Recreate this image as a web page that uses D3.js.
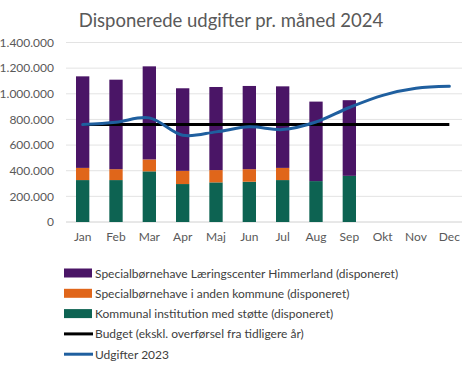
<!DOCTYPE html>
<html><head><meta charset="utf-8">
<script src="https://cdn.jsdelivr.net/npm/d3@7"></script>
<style>body{margin:0;background:#fff;}svg{display:block;font-family:Lato,"Open Sans",sans-serif;}</style>
</head><body>
<svg id="c" width="462" height="367"></svg>
<script>
const months = ["Jan","Feb","Mar","Apr","Maj","Jun","Jul","Aug","Sep","Okt","Nov","Dec"];
const kommunal = [327000,327000,395000,296000,309000,314000,327000,319000,360000];
const andenKommune = [95000,85000,93000,103000,96000,98000,95000,0,0];
const laeringscenter = [714000,698000,726000,644000,648000,649000,636000,620000,590000];
const budget = [760000,760000,760000,760000,760000,760000,760000,760000,760000,760000,760000,760000];
const udgifter2023 = [760000,778000,812000,677000,703000,742000,721000,780000,893000,988000,1043000,1058000];
const yTicks = [0,200000,400000,600000,800000,1000000,1200000,1400000];
const seriesNames = ["Specialbørnehave Læringscenter Himmerland (disponeret)","Specialbørnehave i anden kommune (disponeret)","Kommunal institution med støtte (disponeret)","Budget (ekskl. overførsel fra tidligere år)","Udgifter 2023"];
const colors = {purple:"#4a1566", orange:"#e0661a", teal:"#0d6352", black:"#000000", blue:"#1f5f9f"};

const svg = d3.select("#c");
const x = d3.scaleBand().domain(months).range([66,466]).paddingInner(0.6).paddingOuter(0.3);
const y = d3.scaleLinear().domain([0,1400000]).range([222,42.5]);
const fmt = v => d3.format(",")(v).replace(/,/g,".");

// grid
svg.append("g").selectAll("line").data(yTicks).join("line")
  .attr("x1",66).attr("x2",462).attr("y1",d=>y(d)).attr("y2",d=>y(d))
  .attr("stroke",d=>d===0?"#d0d0d0":"#e3e3e3").attr("stroke-width",1);

// y axis labels
const ya = svg.append("g").attr("transform","translate(54,0)")
  .call(d3.axisLeft(y).tickValues(yTicks).tickFormat(fmt).tickSize(0).tickPadding(0));
ya.select(".domain").remove();
ya.selectAll("text").attr("fill","#595959").style("font-size","12px").style("font-family","Lato,'Open Sans',sans-serif");

// x axis labels
const xa = svg.append("g").attr("transform","translate(0,222)")
  .call(d3.axisBottom(x).tickSize(0).tickPadding(10));
xa.select(".domain").remove();
xa.selectAll("text").attr("fill","#595959").style("font-size","12px").style("font-family","Lato,'Open Sans',sans-serif");

// stacked bars
const rows = kommunal.map((v,i)=>({m:months[i], kommunal:v, anden:andenKommune[i], laer:laeringscenter[i]}));
const stack = d3.stack().keys(["kommunal","anden","laer"])(rows);
const stackColors = [colors.teal, colors.orange, colors.purple];
svg.append("g").selectAll("g").data(stack).join("g").attr("fill",(d,i)=>stackColors[i])
  .selectAll("rect").data(d=>d).join("rect")
  .attr("x",d=>x(d.data.m)).attr("width",x.bandwidth())
  .attr("y",d=>y(d[1])).attr("height",d=>Math.max(0,y(d[0])-y(d[1])));

// lines
const cx = m => x(m)+x.bandwidth()/2;
const budgetLine = d3.line().x((d,i)=>cx(months[i])).y(d=>y(d));
svg.append("path").datum(budget).attr("d",budgetLine).attr("fill","none").attr("stroke",colors.black).attr("stroke-width",3);
const udgLine = d3.line().x((d,i)=>cx(months[i])).y(d=>y(d)).curve(d3.curveCatmullRom.alpha(0.5));
svg.append("path").datum(udgifter2023).attr("d",udgLine).attr("fill","none").attr("stroke",colors.blue).attr("stroke-width",3).attr("stroke-linecap","round");

// title
svg.append("text").attr("x",231).attr("y",27).attr("text-anchor","middle")
  .attr("fill","#595959").style("font-size","18.5px").text("Disponerede udgifter pr. måned 2024");

// legend
const leg = svg.append("g");
const legColors = [colors.purple, colors.orange, colors.teal, colors.black, colors.blue];
seriesNames.forEach((name,i)=>{
  const yy = 273 + i*20.3;
  if(i<3){
    leg.append("rect").attr("x",64).attr("y",yy-4.5).attr("width",28).attr("height",9).attr("fill",legColors[i]);
  } else {
    leg.append("line").attr("x1",64).attr("x2",93).attr("y1",yy).attr("y2",yy).attr("stroke",legColors[i]).attr("stroke-width",3);
  }
  leg.append("text").attr("x",95).attr("y",yy+4.5).attr("fill","#404040").style("font-size","12px").text(name);
});
</script>
</body></html>
